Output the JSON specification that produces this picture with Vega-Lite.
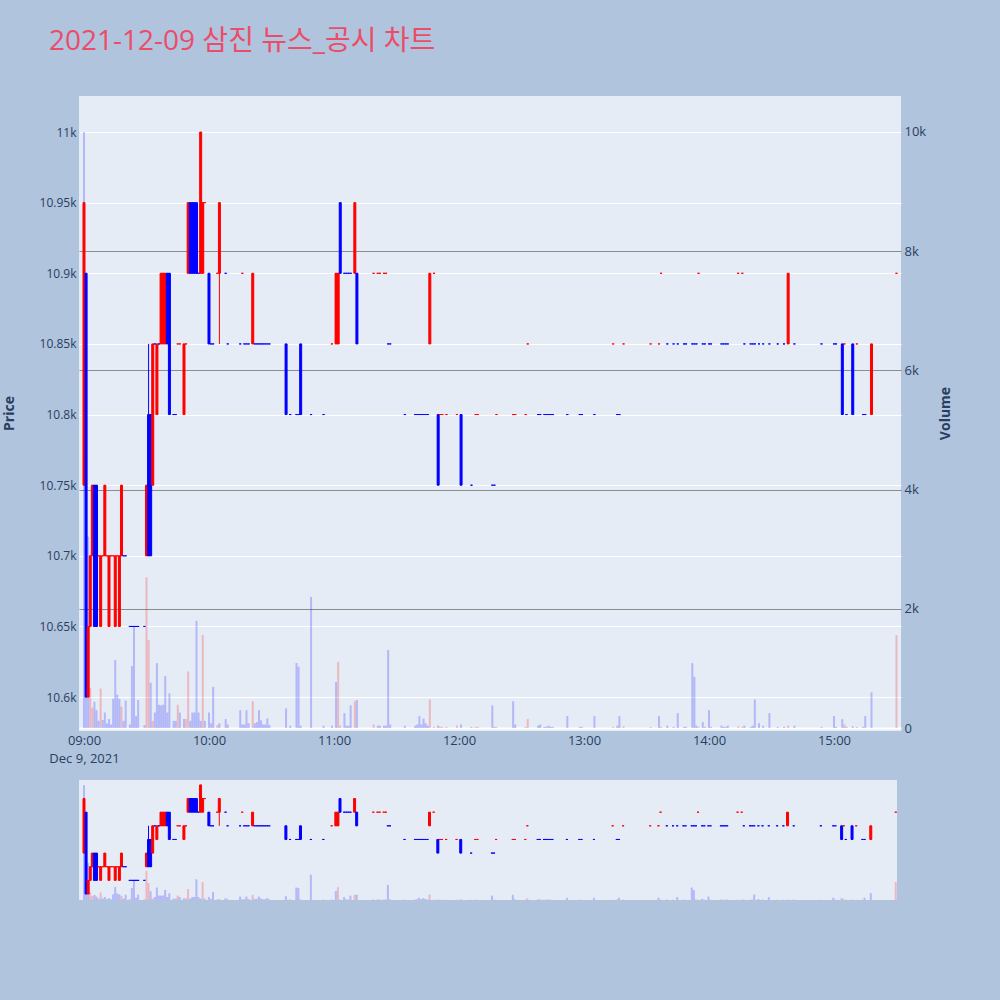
{
"$schema":"https://vega.github.io/schema/vega-lite/v6.json",
"background":"#B0C4DE",
"padding":{"left":2,"top":28,"right":48,"bottom":102},
"title":{"text":"2021-12-09 삼진 뉴스_공시 차트","anchor":"start","frame":"group","fontSize":28,"color":"#EB4D68","font":"Open Sans, Noto Sans CJK KR","fontWeight":"normal","offset":40,"dx":-30},
"config":{"view":{"fill":"#E5ECF6","stroke":null},"axis":{"labelFont":"Open Sans","labelFontSize":12,"labelColor":"#2a3f5f","titleFont":"Open Sans","titleColor":"#2a3f5f","titleFontSize":14,"titleFontWeight":"bold","domain":false,"ticks":false,"tickSize":0}},
"data":{"format":{"parse":{"t":"utc:'%H:%M'"}},"values":[
{"t":"09:00","o":10750,"h":10950,"l":10750,"c":10950,"v":10000,"d":"up","vd":"down"},
{"t":"09:01","o":10900,"h":10900,"l":10600,"c":10600,"v":4530,"d":"down","vd":"down"},
{"t":"09:02","o":10600,"h":10650,"l":10600,"c":10650,"v":3210,"d":"up","vd":"down"},
{"t":"09:03","o":10650,"h":10700,"l":10650,"c":10700,"v":670,"d":"up","vd":"up"},
{"t":"09:04","o":10700,"h":10750,"l":10700,"c":10750,"v":340,"d":"up","vd":"up"},
{"t":"09:05","o":10750,"h":10750,"l":10650,"c":10650,"v":440,"d":"down","vd":"down"},
{"t":"09:06","o":10750,"h":10750,"l":10650,"c":10650,"v":300,"d":"down","vd":"down"},
{"t":"09:07","o":10700,"h":10700,"l":10700,"c":10700,"v":120,"d":"up","vd":"down"},
{"t":"09:08","o":10650,"h":10700,"l":10650,"c":10700,"v":660,"d":"up","vd":"up"},
{"t":"09:09","o":10700,"h":10700,"l":10700,"c":10700,"v":135,"d":"up","vd":"down"},
{"t":"09:10","o":10700,"h":10750,"l":10700,"c":10750,"v":260,"d":"up","vd":"down"},
{"t":"09:11","o":10700,"h":10700,"l":10700,"c":10700,"v":80,"d":"up","vd":"down"},
{"t":"09:12","o":10650,"h":10700,"l":10650,"c":10700,"v":150,"d":"up","vd":"down"},
{"t":"09:13","o":10700,"h":10700,"l":10700,"c":10700,"v":60,"d":"up","vd":"down"},
{"t":"09:14","o":10700,"h":10700,"l":10700,"c":10700,"v":490,"d":"up","vd":"down"},
{"t":"09:15","o":10650,"h":10700,"l":10650,"c":10700,"v":1140,"d":"up","vd":"down"},
{"t":"09:16","o":10700,"h":10700,"l":10700,"c":10700,"v":560,"d":"up","vd":"down"},
{"t":"09:17","o":10650,"h":10700,"l":10650,"c":10700,"v":490,"d":"up","vd":"down"},
{"t":"09:18","o":10700,"h":10750,"l":10700,"c":10750,"v":360,"d":"up","vd":"up"},
{"t":"09:19","o":10700,"h":10700,"l":10700,"c":10700,"v":120,"d":"down","vd":"down"},
{"t":"09:20","o":10700,"h":10700,"l":10700,"c":10700,"v":460,"d":"down","vd":"down"},
{"t":"09:22","o":10650,"h":10650,"l":10650,"c":10650,"v":60,"d":"down","vd":"down"},
{"t":"09:23","o":10650,"h":10650,"l":10650,"c":10650,"v":1040,"d":"down","vd":"down"},
{"t":"09:24","o":10650,"h":10650,"l":10650,"c":10650,"v":1710,"d":"down","vd":"down"},
{"t":"09:25","o":10650,"h":10650,"l":10650,"c":10650,"v":200,"d":"down","vd":"down"},
{"t":"09:26","o":10650,"h":10650,"l":10650,"c":10650,"v":470,"d":"down","vd":"down"},
{"t":"09:29","o":10650,"h":10650,"l":10650,"c":10650,"v":50,"d":"down","vd":"down"},
{"t":"09:30","o":10700,"h":10750,"l":10700,"c":10750,"v":2530,"d":"up","vd":"up"},
{"t":"09:31","o":10800,"h":10850,"l":10700,"c":10700,"v":1480,"d":"down","vd":"up"},
{"t":"09:32","o":10800,"h":10800,"l":10700,"c":10700,"v":760,"d":"down","vd":"down"},
{"t":"09:33","o":10750,"h":10850,"l":10750,"c":10850,"v":120,"d":"up","vd":"up"},
{"t":"09:34","o":10850,"h":10850,"l":10850,"c":10850,"v":260,"d":"down","vd":"down"},
{"t":"09:35","o":10800,"h":10850,"l":10800,"c":10850,"v":1090,"d":"up","vd":"down"},
{"t":"09:36","o":10850,"h":10850,"l":10850,"c":10850,"v":390,"d":"down","vd":"down"},
{"t":"09:37","o":10850,"h":10900,"l":10850,"c":10900,"v":380,"d":"up","vd":"down"},
{"t":"09:38","o":10850,"h":10900,"l":10850,"c":10900,"v":390,"d":"up","vd":"down"},
{"t":"09:39","o":10850,"h":10900,"l":10850,"c":10900,"v":870,"d":"up","vd":"down"},
{"t":"09:40","o":10900,"h":10900,"l":10850,"c":10850,"v":260,"d":"down","vd":"down"},
{"t":"09:41","o":10900,"h":10900,"l":10800,"c":10800,"v":580,"d":"down","vd":"down"},
{"t":"09:43","o":10800,"h":10800,"l":10800,"c":10800,"v":120,"d":"down","vd":"down"},
{"t":"09:44","o":10800,"h":10800,"l":10800,"c":10800,"v":120,"d":"down","vd":"down"},
{"t":"09:45","o":10850,"h":10850,"l":10850,"c":10850,"v":390,"d":"up","vd":"up"},
{"t":"09:46","o":10850,"h":10850,"l":10850,"c":10850,"v":260,"d":"up","vd":"down"},
{"t":"09:48","o":10800,"h":10850,"l":10800,"c":10850,"v":150,"d":"up","vd":"down"},
{"t":"09:49","o":10850,"h":10850,"l":10850,"c":10850,"v":150,"d":"up","vd":"up"},
{"t":"09:50","o":10900,"h":10950,"l":10900,"c":10950,"v":950,"d":"up","vd":"up"},
{"t":"09:51","o":10950,"h":10950,"l":10900,"c":10900,"v":120,"d":"down","vd":"down"},
{"t":"09:52","o":10950,"h":10950,"l":10900,"c":10900,"v":260,"d":"down","vd":"down"},
{"t":"09:53","o":10950,"h":10950,"l":10900,"c":10900,"v":260,"d":"down","vd":"down"},
{"t":"09:54","o":10950,"h":10950,"l":10900,"c":10900,"v":1800,"d":"down","vd":"down"},
{"t":"09:55","o":10900,"h":10900,"l":10900,"c":10900,"v":260,"d":"down","vd":"down"},
{"t":"09:56","o":10900,"h":11000,"l":10900,"c":11000,"v":120,"d":"up","vd":"down"},
{"t":"09:57","o":10900,"h":10950,"l":10900,"c":10950,"v":1560,"d":"up","vd":"up"},
{"t":"09:58","o":10950,"h":10950,"l":10950,"c":10950,"v":120,"d":"up","vd":"down"},
{"t":"10:00","o":10900,"h":10900,"l":10850,"c":10850,"v":260,"d":"down","vd":"down"},
{"t":"10:01","o":10850,"h":10850,"l":10850,"c":10850,"v":80,"d":"down","vd":"down"},
{"t":"10:02","o":10850,"h":10850,"l":10850,"c":10850,"v":690,"d":"down","vd":"down"},
{"t":"10:04","o":10900,"h":10900,"l":10900,"c":10900,"v":50,"d":"up","vd":"up"},
{"t":"10:05","o":10900,"h":10950,"l":10850,"c":10950,"v":80,"d":"up","vd":"down"},
{"t":"10:08","o":10900,"h":10900,"l":10900,"c":10900,"v":150,"d":"down","vd":"down"},
{"t":"10:09","o":10850,"h":10850,"l":10850,"c":10850,"v":60,"d":"down","vd":"down"},
{"t":"10:15","o":10850,"h":10850,"l":10850,"c":10850,"v":300,"d":"down","vd":"down"},
{"t":"10:16","o":10900,"h":10900,"l":10900,"c":10900,"v":60,"d":"up","vd":"down"},
{"t":"10:17","o":10850,"h":10850,"l":10850,"c":10850,"v":60,"d":"down","vd":"down"},
{"t":"10:18","o":10850,"h":10850,"l":10850,"c":10850,"v":300,"d":"down","vd":"down"},
{"t":"10:19","o":10850,"h":10850,"l":10850,"c":10850,"v":80,"d":"down","vd":"down"},
{"t":"10:21","o":10850,"h":10900,"l":10850,"c":10900,"v":450,"d":"up","vd":"up"},
{"t":"10:22","o":10850,"h":10850,"l":10850,"c":10850,"v":80,"d":"down","vd":"down"},
{"t":"10:23","o":10850,"h":10850,"l":10850,"c":10850,"v":100,"d":"down","vd":"down"},
{"t":"10:24","o":10850,"h":10850,"l":10850,"c":10850,"v":300,"d":"down","vd":"down"},
{"t":"10:25","o":10850,"h":10850,"l":10850,"c":10850,"v":130,"d":"down","vd":"down"},
{"t":"10:26","o":10850,"h":10850,"l":10850,"c":10850,"v":60,"d":"down","vd":"down"},
{"t":"10:27","o":10850,"h":10850,"l":10850,"c":10850,"v":60,"d":"down","vd":"down"},
{"t":"10:28","o":10850,"h":10850,"l":10850,"c":10850,"v":160,"d":"down","vd":"down"},
{"t":"10:29","o":10850,"h":10850,"l":10850,"c":10850,"v":50,"d":"down","vd":"down"},
{"t":"10:37","o":10850,"h":10850,"l":10800,"c":10800,"v":330,"d":"down","vd":"down"},
{"t":"10:39","o":10800,"h":10800,"l":10800,"c":10800,"v":40,"d":"down","vd":"down"},
{"t":"10:42","o":10800,"h":10800,"l":10800,"c":10800,"v":1090,"d":"down","vd":"down"},
{"t":"10:43","o":10800,"h":10800,"l":10800,"c":10800,"v":1030,"d":"down","vd":"down"},
{"t":"10:44","o":10850,"h":10850,"l":10800,"c":10800,"v":40,"d":"down","vd":"down"},
{"t":"10:49","o":10800,"h":10800,"l":10800,"c":10800,"v":2200,"d":"down","vd":"down"},
{"t":"10:55","o":10800,"h":10800,"l":10800,"c":10800,"v":40,"d":"down","vd":"down"},
{"t":"10:59","o":10850,"h":10850,"l":10850,"c":10850,"v":40,"d":"up","vd":"down"},
{"t":"11:01","o":10850,"h":10900,"l":10850,"c":10900,"v":770,"d":"up","vd":"down"},
{"t":"11:02","o":10850,"h":10900,"l":10850,"c":10900,"v":1110,"d":"up","vd":"up"},
{"t":"11:03","o":10950,"h":10950,"l":10900,"c":10900,"v":40,"d":"down","vd":"up"},
{"t":"11:05","o":10900,"h":10900,"l":10900,"c":10900,"v":250,"d":"down","vd":"down"},
{"t":"11:06","o":10900,"h":10900,"l":10900,"c":10900,"v":40,"d":"down","vd":"down"},
{"t":"11:07","o":10900,"h":10900,"l":10900,"c":10900,"v":40,"d":"down","vd":"down"},
{"t":"11:08","o":10900,"h":10900,"l":10900,"c":10900,"v":380,"d":"down","vd":"down"},
{"t":"11:10","o":10900,"h":10950,"l":10900,"c":10950,"v":450,"d":"up","vd":"up"},
{"t":"11:11","o":10900,"h":10900,"l":10850,"c":10850,"v":470,"d":"down","vd":"down"},
{"t":"11:19","o":10900,"h":10900,"l":10900,"c":10900,"v":60,"d":"up","vd":"up"},
{"t":"11:21","o":10900,"h":10900,"l":10900,"c":10900,"v":40,"d":"up","vd":"down"},
{"t":"11:22","o":10900,"h":10900,"l":10900,"c":10900,"v":40,"d":"up","vd":"down"},
{"t":"11:24","o":10900,"h":10900,"l":10900,"c":10900,"v":40,"d":"up","vd":"down"},
{"t":"11:25","o":10900,"h":10900,"l":10900,"c":10900,"v":40,"d":"up","vd":"down"},
{"t":"11:26","o":10850,"h":10850,"l":10850,"c":10850,"v":1310,"d":"down","vd":"down"},
{"t":"11:27","o":10850,"h":10850,"l":10850,"c":10850,"v":60,"d":"down","vd":"down"},
{"t":"11:34","o":10800,"h":10800,"l":10800,"c":10800,"v":40,"d":"down","vd":"down"},
{"t":"11:39","o":10800,"h":10800,"l":10800,"c":10800,"v":40,"d":"down","vd":"down"},
{"t":"11:40","o":10800,"h":10800,"l":10800,"c":10800,"v":60,"d":"down","vd":"down"},
{"t":"11:41","o":10800,"h":10800,"l":10800,"c":10800,"v":200,"d":"down","vd":"down"},
{"t":"11:42","o":10800,"h":10800,"l":10800,"c":10800,"v":60,"d":"down","vd":"down"},
{"t":"11:43","o":10800,"h":10800,"l":10800,"c":10800,"v":160,"d":"down","vd":"down"},
{"t":"11:44","o":10800,"h":10800,"l":10800,"c":10800,"v":80,"d":"down","vd":"down"},
{"t":"11:45","o":10800,"h":10800,"l":10800,"c":10800,"v":40,"d":"down","vd":"down"},
{"t":"11:46","o":10850,"h":10900,"l":10850,"c":10900,"v":480,"d":"up","vd":"up"},
{"t":"11:48","o":10900,"h":10900,"l":10900,"c":10900,"v":20,"d":"up","vd":"up"},
{"t":"11:50","o":10800,"h":10800,"l":10750,"c":10750,"v":40,"d":"down","vd":"down"},
{"t":"11:51","o":10800,"h":10800,"l":10800,"c":10800,"v":20,"d":"up","vd":"up"},
{"t":"11:52","o":10800,"h":10800,"l":10800,"c":10800,"v":20,"d":"up","vd":"up"},
{"t":"11:54","o":10800,"h":10800,"l":10800,"c":10800,"v":20,"d":"up","vd":"up"},
{"t":"11:59","o":10800,"h":10800,"l":10800,"c":10800,"v":40,"d":"up","vd":"up"},
{"t":"12:01","o":10800,"h":10800,"l":10750,"c":10750,"v":60,"d":"down","vd":"down"},
{"t":"12:06","o":10750,"h":10750,"l":10750,"c":10750,"v":20,"d":"down","vd":"down"},
{"t":"12:08","o":10800,"h":10800,"l":10800,"c":10800,"v":20,"d":"up","vd":"up"},
{"t":"12:09","o":10800,"h":10800,"l":10800,"c":10800,"v":20,"d":"up","vd":"up"},
{"t":"12:16","o":10750,"h":10750,"l":10750,"c":10750,"v":380,"d":"down","vd":"down"},
{"t":"12:17","o":10750,"h":10750,"l":10750,"c":10750,"v":20,"d":"down","vd":"down"},
{"t":"12:18","o":10800,"h":10800,"l":10800,"c":10800,"v":20,"d":"up","vd":"up"},
{"t":"12:26","o":10800,"h":10800,"l":10800,"c":10800,"v":450,"d":"up","vd":"down"},
{"t":"12:27","o":10800,"h":10800,"l":10800,"c":10800,"v":60,"d":"up","vd":"down"},
{"t":"12:32","o":10800,"h":10800,"l":10800,"c":10800,"v":20,"d":"up","vd":"up"},
{"t":"12:33","o":10850,"h":10850,"l":10850,"c":10850,"v":150,"d":"up","vd":"up"},
{"t":"12:38","o":10800,"h":10800,"l":10800,"c":10800,"v":40,"d":"down","vd":"down"},
{"t":"12:39","o":10800,"h":10800,"l":10800,"c":10800,"v":60,"d":"down","vd":"down"},
{"t":"12:41","o":10800,"h":10800,"l":10800,"c":10800,"v":20,"d":"down","vd":"down"},
{"t":"12:42","o":10800,"h":10800,"l":10800,"c":10800,"v":20,"d":"down","vd":"down"},
{"t":"12:43","o":10800,"h":10800,"l":10800,"c":10800,"v":40,"d":"down","vd":"down"},
{"t":"12:44","o":10800,"h":10800,"l":10800,"c":10800,"v":20,"d":"down","vd":"down"},
{"t":"12:45","o":10800,"h":10800,"l":10800,"c":10800,"v":20,"d":"down","vd":"down"},
{"t":"12:52","o":10800,"h":10800,"l":10800,"c":10800,"v":200,"d":"down","vd":"down"},
{"t":"12:58","o":10800,"h":10800,"l":10800,"c":10800,"v":20,"d":"down","vd":"down"},
{"t":"12:59","o":10800,"h":10800,"l":10800,"c":10800,"v":20,"d":"down","vd":"down"},
{"t":"13:05","o":10800,"h":10800,"l":10800,"c":10800,"v":200,"d":"down","vd":"down"},
{"t":"13:14","o":10850,"h":10850,"l":10850,"c":10850,"v":20,"d":"up","vd":"up"},
{"t":"13:16","o":10800,"h":10800,"l":10800,"c":10800,"v":40,"d":"down","vd":"down"},
{"t":"13:17","o":10800,"h":10800,"l":10800,"c":10800,"v":200,"d":"down","vd":"down"},
{"t":"13:19","o":10850,"h":10850,"l":10850,"c":10850,"v":30,"d":"up","vd":"up"},
{"t":"13:32","o":10850,"h":10850,"l":10850,"c":10850,"v":20,"d":"up","vd":"up"},
{"t":"13:36","o":10850,"h":10850,"l":10850,"c":10850,"v":200,"d":"up","vd":"down"},
{"t":"13:37","o":10900,"h":10900,"l":10900,"c":10900,"v":20,"d":"up","vd":"up"},
{"t":"13:40","o":10850,"h":10850,"l":10850,"c":10850,"v":40,"d":"down","vd":"down"},
{"t":"13:43","o":10850,"h":10850,"l":10850,"c":10850,"v":20,"d":"down","vd":"down"},
{"t":"13:45","o":10850,"h":10850,"l":10850,"c":10850,"v":250,"d":"down","vd":"down"},
{"t":"13:48","o":10850,"h":10850,"l":10850,"c":10850,"v":20,"d":"down","vd":"down"},
{"t":"13:49","o":10850,"h":10850,"l":10850,"c":10850,"v":20,"d":"down","vd":"down"},
{"t":"13:52","o":10850,"h":10850,"l":10850,"c":10850,"v":1090,"d":"down","vd":"down"},
{"t":"13:53","o":10850,"h":10850,"l":10850,"c":10850,"v":860,"d":"down","vd":"down"},
{"t":"13:54","o":10850,"h":10850,"l":10850,"c":10850,"v":40,"d":"down","vd":"down"},
{"t":"13:55","o":10900,"h":10900,"l":10900,"c":10900,"v":20,"d":"up","vd":"up"},
{"t":"13:57","o":10850,"h":10850,"l":10850,"c":10850,"v":100,"d":"down","vd":"down"},
{"t":"13:58","o":10850,"h":10850,"l":10850,"c":10850,"v":20,"d":"down","vd":"down"},
{"t":"14:00","o":10850,"h":10850,"l":10850,"c":10850,"v":300,"d":"down","vd":"down"},
{"t":"14:01","o":10850,"h":10850,"l":10850,"c":10850,"v":20,"d":"down","vd":"down"},
{"t":"14:06","o":10850,"h":10850,"l":10850,"c":10850,"v":40,"d":"down","vd":"down"},
{"t":"14:07","o":10850,"h":10850,"l":10850,"c":10850,"v":20,"d":"down","vd":"down"},
{"t":"14:08","o":10850,"h":10850,"l":10850,"c":10850,"v":20,"d":"down","vd":"down"},
{"t":"14:09","o":10850,"h":10850,"l":10850,"c":10850,"v":40,"d":"down","vd":"down"},
{"t":"14:14","o":10900,"h":10900,"l":10900,"c":10900,"v":30,"d":"up","vd":"up"},
{"t":"14:16","o":10900,"h":10900,"l":10900,"c":10900,"v":20,"d":"up","vd":"up"},
{"t":"14:17","o":10850,"h":10850,"l":10850,"c":10850,"v":40,"d":"down","vd":"down"},
{"t":"14:20","o":10850,"h":10850,"l":10850,"c":10850,"v":20,"d":"down","vd":"down"},
{"t":"14:21","o":10850,"h":10850,"l":10850,"c":10850,"v":40,"d":"down","vd":"down"},
{"t":"14:22","o":10850,"h":10850,"l":10850,"c":10850,"v":480,"d":"down","vd":"down"},
{"t":"14:24","o":10850,"h":10850,"l":10850,"c":10850,"v":80,"d":"down","vd":"down"},
{"t":"14:26","o":10850,"h":10850,"l":10850,"c":10850,"v":40,"d":"down","vd":"down"},
{"t":"14:29","o":10850,"h":10850,"l":10850,"c":10850,"v":250,"d":"down","vd":"down"},
{"t":"14:33","o":10850,"h":10850,"l":10850,"c":10850,"v":20,"d":"down","vd":"down"},
{"t":"14:36","o":10850,"h":10850,"l":10850,"c":10850,"v":20,"d":"down","vd":"down"},
{"t":"14:38","o":10850,"h":10900,"l":10850,"c":10900,"v":40,"d":"up","vd":"up"},
{"t":"14:41","o":10850,"h":10850,"l":10850,"c":10850,"v":40,"d":"down","vd":"down"},
{"t":"14:54","o":10850,"h":10850,"l":10850,"c":10850,"v":20,"d":"down","vd":"down"},
{"t":"15:00","o":10850,"h":10850,"l":10850,"c":10850,"v":200,"d":"down","vd":"down"},
{"t":"15:01","o":10850,"h":10850,"l":10850,"c":10850,"v":20,"d":"down","vd":"down"},
{"t":"15:04","o":10850,"h":10850,"l":10800,"c":10800,"v":150,"d":"down","vd":"down"},
{"t":"15:05","o":10850,"h":10850,"l":10850,"c":10850,"v":60,"d":"up","vd":"up"},
{"t":"15:06","o":10800,"h":10800,"l":10800,"c":10800,"v":20,"d":"down","vd":"down"},
{"t":"15:09","o":10850,"h":10850,"l":10800,"c":10800,"v":30,"d":"down","vd":"down"},
{"t":"15:11","o":10850,"h":10850,"l":10850,"c":10850,"v":20,"d":"up","vd":"up"},
{"t":"15:14","o":10800,"h":10800,"l":10800,"c":10800,"v":20,"d":"down","vd":"down"},
{"t":"15:15","o":10800,"h":10800,"l":10800,"c":10800,"v":200,"d":"down","vd":"down"},
{"t":"15:18","o":10800,"h":10850,"l":10800,"c":10850,"v":600,"d":"up","vd":"down"},
{"t":"15:30","o":10900,"h":10900,"l":10900,"c":10900,"v":1560,"d":"up","vd":"up"}
]},
"bounds":"flush",
"spacing":49,
"vconcat":[
{
"width":822,"height":635,
"encoding":{
"x":{"field":"t","type":"temporal","title":null,
"scale":{"type":"utc","padding":0,"domain":[{"year":1900,"month":1,"date":1,"hours":8,"minutes":57,"seconds":36,"utc":true},{"year":1900,"month":1,"date":1,"hours":15,"minutes":32,"seconds":10,"utc":true}]},
"axis":{"grid":false,"labelFontSize":13,"labelPadding":3,"labelLineHeight":18,"labelFlush":false,"labelOverlap":false,
"values":[{"year":1900,"month":1,"date":1,"hours":9,"utc":true},{"year":1900,"month":1,"date":1,"hours":10,"utc":true},{"year":1900,"month":1,"date":1,"hours":11,"utc":true},{"year":1900,"month":1,"date":1,"hours":12,"utc":true},{"year":1900,"month":1,"date":1,"hours":13,"utc":true},{"year":1900,"month":1,"date":1,"hours":14,"utc":true},{"year":1900,"month":1,"date":1,"hours":15,"utc":true}],
"labelExpr":"utchours(datum.value) == 9 ? ['09:00', 'Dec 9, 2021'] : utcFormat(datum.value, '%H:%M')"}}
},
"layer":[
{"mark":{"type":"bar","size":2,"opacity":0.22},
"encoding":{"y":{"field":"v","type":"quantitative","scale":{"domain":[-50,10604],"nice":false,"zero":false},
"axis":{"orient":"right","title":"Volume","titleAngle":270,"titleX":44,"titleY":317,"titleAlign":"center","titleBaseline":"middle","values":[0,2000,4000,6000,8000,10000],"labelExpr":"datum.value == 0 ? '0' : format(datum.value, '~s')","labelFontSize":13,"labelPadding":3,"grid":true,
"gridColor":{"condition":{"test":"datum.value == 0","value":"#ffffff"},"value":"#8c8c8c"},
"gridWidth":{"condition":{"test":"datum.value == 0","value":2},"value":1}}},
"y2":{"datum":0},
"color":{"field":"vd","type":"nominal","scale":{"domain":["up","down"],"range":["#FF0000","#0000FF"]},"legend":null}}},
{"layer":[
{"mark":{"type":"rule","strokeWidth":1},
"encoding":{"y":{"field":"l","type":"quantitative","scale":{"domain":[10576,11025.5],"nice":false,"zero":false},
"axis":{"orient":"left","title":"Price","titleAngle":270,"titleX":-70,"titleY":317,"titleAlign":"center","titleBaseline":"middle","values":[10600,10650,10700,10750,10800,10850,10900,10950,11000],"format":"~s","labelPadding":3,"grid":true,"gridColor":"#ffffff","gridWidth":1}},
"y2":{"field":"h"},
"color":{"field":"d","type":"nominal","scale":{"domain":["up","down"],"range":["#FF0000","#0000FF"]},"legend":null}}},
{"mark":{"type":"bar","size":2,"strokeWidth":1},
"encoding":{"y":{"field":"o","type":"quantitative","title":"Price"},"y2":{"field":"c"},
"color":{"field":"d","type":"nominal","scale":{"domain":["up","down"],"range":["#FF0000","#0000FF"]},"legend":null},
"stroke":{"field":"d","type":"nominal","scale":{"domain":["up","down"],"range":["#FF0000","#0000FF"]},"legend":null}}}
]}
],
"resolve":{"scale":{"y":"independent"}}
},
{
"width":818,"height":120,
"encoding":{
"x":{"field":"t","type":"temporal","axis":null,
"scale":{"type":"utc","padding":0,"domain":[{"year":1900,"month":1,"date":1,"hours":8,"minutes":57,"seconds":36,"utc":true},{"year":1900,"month":1,"date":1,"hours":15,"minutes":30,"seconds":36,"utc":true}]}}
},
"layer":[
{"mark":{"type":"bar","size":2,"opacity":0.22},
"encoding":{"y":{"field":"v","type":"quantitative","axis":null,"scale":{"domain":[0,10450],"nice":false,"zero":false}},"y2":{"datum":0},
"color":{"field":"vd","type":"nominal","scale":{"domain":["up","down"],"range":["#FF0000","#0000FF"]},"legend":null}}},
{"layer":[
{"mark":{"type":"rule","strokeWidth":1},
"encoding":{"y":{"field":"l","type":"quantitative","axis":null,"scale":{"domain":[10578,11018],"nice":false,"zero":false}},"y2":{"field":"h"},
"color":{"field":"d","type":"nominal","scale":{"domain":["up","down"],"range":["#FF0000","#0000FF"]},"legend":null}}},
{"mark":{"type":"bar","size":2,"strokeWidth":1},
"encoding":{"y":{"field":"o","type":"quantitative","axis":null},"y2":{"field":"c"},
"color":{"field":"d","type":"nominal","scale":{"domain":["up","down"],"range":["#FF0000","#0000FF"]},"legend":null},
"stroke":{"field":"d","type":"nominal","scale":{"domain":["up","down"],"range":["#FF0000","#0000FF"]},"legend":null}}}
]}
],
"resolve":{"scale":{"y":"independent"}}
}
]
}
